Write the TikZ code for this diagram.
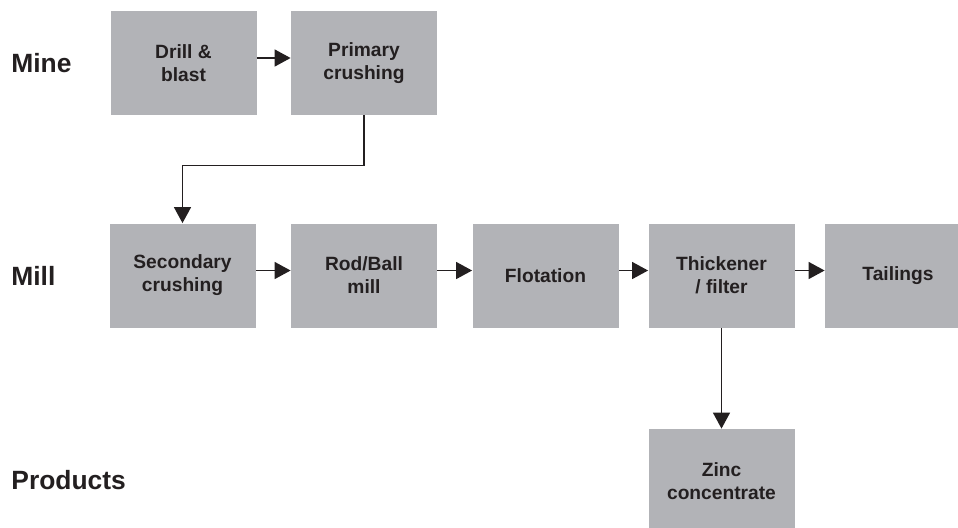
\documentclass[tikz,border=0pt]{standalone}
\usepackage{fontspec}
\setmainfont{Liberation Sans}
\usetikzlibrary{arrows.meta}
\definecolor{boxgray}{RGB}{178,179,183}
\definecolor{inkblack}{RGB}{35,31,32}
\tikzset{stage/.style={fill=boxgray, text=inkblack, align=center,
         minimum width=73pt, minimum height=52pt, inner sep=0pt,
         font=\fontsize{9.6}{11.5}\selectfont\bfseries},
         level/.style={anchor=west, text=inkblack, inner sep=0pt,
         font=\fontsize{13.2}{16}\selectfont\bfseries},
         flow/.style={draw=inkblack, line width=0.7pt,
         -{Triangle[length=8pt,width=8.5pt]}}}

\begin{document}
\begin{tikzpicture}[x=0.5pt,y=-0.5pt]
  \useasboundingbox (0,0) rectangle (958,527);
  \node[level] (mine) at (11,63) {Mine};
  \node[level] (mill) at (11,275.5) {Mill};
  \node[level] (products) at (11,480) {Products};
  \node[stage] (drill) at (183.5,63) {Drill \&\\blast};
  \node[stage] (primary) at (364,63) {Primary\\crushing};
  \node[stage] (secondary) at (182.5,275.5) {Secondary\\crushing};
  \node[stage] (rodball) at (364,275.5) {Rod/Ball\\mill};
  \node[stage] (flotation) at (545.5,275.5) {Flotation};
  \node[stage] (thickener) at (721.5,275.5) {Thickener\\/ filter};
  \node[stage] (tailings) at (898,275.5) {Tailings};
  \node[stage] (zinc) at (721.5,481) {Zinc\\concentrate};
  \foreach \a/\b in {drill/primary,secondary/rodball,rodball/flotation,
                     flotation/thickener,thickener/tailings}
    \draw[flow] ([yshift=2.5pt]\a.east) -- ([yshift=2.5pt]\b.west);
  \draw[flow] (primary.south) -- ++(0,50) -| (secondary.north);
  \draw[flow] (thickener.south) -- (zinc.north);
\end{tikzpicture}
\end{document}
